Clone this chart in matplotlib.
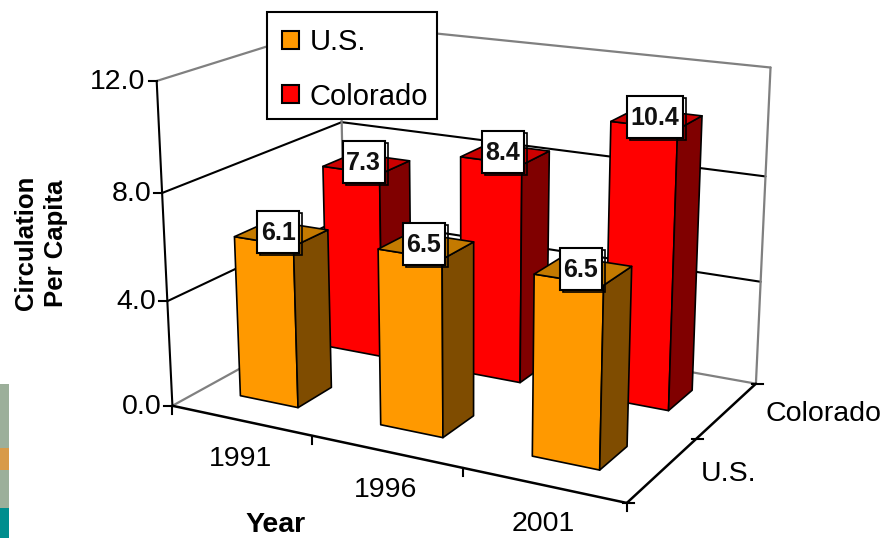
import numpy as np
from matplotlib import pyplot as plt
from matplotlib.patches import Polygon, Rectangle, Patch

years = ['1991', '1996', '2001']
series = ['U.S.', 'Colorado']
us_values = [6.1, 6.5, 6.5]
colorado_values = [7.3, 8.4, 10.4]
value_ticks = [0.0, 4.0, 8.0, 12.0]

FRONT = {'U.S.': '#FF9900', 'Colorado': '#FF0000'}
SIDE = {'U.S.': '#7F4C00', 'Colorado': '#800000'}
TOP = {'U.S.': '#C47A00', 'Colorado': '#CC0000'}
GREY = '#808080'

plt.rcParams['font.family'] = ['Liberation Sans', 'DejaVu Sans']

fig = plt.figure(figsize=(8.87, 5.38), dpi=100)
ax = fig.add_axes([0, 0, 1, 1])
ax.set_xlim(0, 887)
ax.set_ylim(538, 0)
ax.axis('off')

# camera: fit a projection from (year, series, value) space to the canvas
frame = [
    ((0, 0, 0), (172, 403)), ((3, 0, 0), (627, 501)),
    ((3, 2, 0), (755, 383)), ((0, 2, 0), (347, 312)),
    ((0, 0, 12), (158, 82)), ((0, 2, 12), (338, 23)),
    ((3, 2, 12), (772, 68)), ((1, 0, 0), (311, 437)),
    ((2, 0, 0), (463, 472)), ((3, 1, 0), (697, 438)),
    ((0, 0, 8), (162, 193)), ((0, 0, 4), (167, 300)),
    ((0, 2, 8), (342, 122)), ((3, 2, 8), (764, 176)),
    ((3, 2, 4), (761, 282)),
]
A, b = [], []
for (x, y, z), (u, v) in frame:
    A.append([x, y, z, 1, 0, 0, 0, 0, -u * x, -u * y, -u * z])
    A.append([0, 0, 0, 0, x, y, z, 1, -v * x, -v * y, -v * z])
    b += [u, v]
p = np.linalg.lstsq(np.array(A, float), np.array(b, float), rcond=None)[0]
P = np.append(p, 1).reshape(3, 4)


def proj(x, y, z):
    h = P @ np.array([x, y, z, 1.0])
    return h[0] / h[2], h[1] / h[2]


def line3(a, b, color='black', lw=1.5, zorder=1):
    pa, pb = proj(*a), proj(*b)
    ax.plot([pa[0], pb[0]], [pa[1], pb[1]], color=color, lw=lw, zorder=zorder,
            solid_capstyle='round')


# left strip of the slide behind the chart
for y0, y1, c in [(384, 448, '#9CAF9A'), (448, 470, '#D89A48'),
                  (470, 508, '#9CAF9A'), (508, 538, '#008E8E')]:
    ax.add_patch(Rectangle((0, y0), 9, y1 - y0, fc=c, ec='none', zorder=0))

# walls
for v in value_ticks[1:3]:
    line3((0, 0, v), (0, 2, v))
    line3((0, 2, v), (3, 2, v))
line3((0, 0, 12), (0, 2, 12), GREY, 1.6)
line3((0, 2, 12), (3, 2, 12), GREY, 1.6)
line3((0, 0, 0), (0, 2, 0), GREY, 1.6)
line3((0, 2, 0), (3, 2, 0), GREY, 1.6)
line3((0, 2, 0), (0, 2, 12), GREY, 1.6)
line3((3, 2, 0), (3, 2, 12), GREY, 1.6)
line3((0, 0, 0), (0, 0, 12), 'black', 1.5)
line3((0, 0, 0), (3, 0, 0), 'black', 1.8, zorder=1)
line3((3, 0, 0), (3, 2, 0), 'black', 1.8, zorder=1)

# ticks
for v in value_ticks:
    u0, v0 = proj(0, 0, v)
    ax.plot([u0 - 8, u0], [v0, v0], color='black', lw=1.5)
    ax.text(u0 - 11, v0 + 1, '%.1f' % v, ha='right', va='center', fontsize=20.5)
for i in range(4):
    u0, v0 = proj(i, 0, 0)
    ax.plot([u0, u0], [v0, v0 + 8], color='black', lw=1.5)
for s in range(3):
    u0, v0 = proj(3, s, 0)
    ax.plot([u0 - 4, u0 + 7], [v0, v0], color='black', lw=1.5)

for i, year in enumerate(years):
    u0, v0 = proj(i + 0.5, 0, 0)
    ax.text(u0, v0 + 39, year, ha='center', va='center', fontsize=20.5)
for s, name in enumerate(series):
    u0, v0 = proj(3, s + 0.5, 0)
    ax.text(u0 + 38, v0 + 4, name, ha='left', va='center', fontsize=20.5)

ax.text(276, 525, 'Year', ha='center', va='center', fontsize=20.5, fontweight='bold')
ax.text(41, 243, 'Circulation\nPer Capita', ha='center', va='center', rotation=90,
        fontsize=18.5, fontweight='bold', linespacing=1.28)


# bars, back row first
HW_X = 0.21
MID_X = 0.48
HW_Y = 0.19
MID_Y = 0.52


def bar3(i, s, value, name):
    x0, x1 = i + MID_X - HW_X, i + MID_X + HW_X
    y0, y1 = s + MID_Y - HW_Y, s + MID_Y + HW_Y
    faces = [
        ([(x0, y0, 0), (x1, y0, 0), (x1, y0, value), (x0, y0, value)], FRONT[name]),
        ([(x1, y0, 0), (x1, y1, 0), (x1, y1, value), (x1, y0, value)], SIDE[name]),
        ([(x0, y0, value), (x1, y0, value), (x1, y1, value), (x0, y1, value)], TOP[name]),
    ]
    for pts, color in faces:
        ax.add_patch(Polygon([proj(*q) for q in pts], closed=True, fc=color,
                             ec='black', lw=1.2, joinstyle='round', zorder=3))


for i, v in enumerate(colorado_values):
    bar3(i, 1, v, 'Colorado')
for i, v in enumerate(us_values):
    bar3(i, 0, v, 'U.S.')


# value labels
def label(i, s, value):
    u0, v0 = proj(i + 0.5, s + 0.5, value)
    u0, v0 = u0 - 4, v0 - 3
    w = 56 if value >= 10 else 42
    h = 42
    ax.add_patch(Rectangle((u0 - w / 2 + 3, v0 - h / 2 + 2), w, h, fc='none', ec='black',
                           lw=1.2, zorder=4))
    ax.add_patch(Rectangle((u0 - w / 2, v0 - h / 2), w, h, fc='white', ec='black',
                           lw=1.5, zorder=5))
    ax.text(u0, v0 + 1, '%.1f' % value, ha='center', va='center', fontsize=18,
            fontweight='bold', color='#111111', zorder=6)


for i, v in enumerate(colorado_values):
    label(i, 1, v)
for i, v in enumerate(us_values):
    label(i, 0, v)

# legend box, drawn apart so its padding can follow the original
ax.add_patch(Rectangle((267, 12), 170, 107, fc='white', ec='black', lw=1.5, zorder=9))
handles = [Patch(fc=FRONT[n], ec='black', lw=1.5, label=n) for n in series]
leg = ax.legend(handles=handles, loc='upper left', bbox_to_anchor=(267, 13),
                bbox_transform=ax.transData, borderaxespad=0, fontsize=21,
                handlelength=0.57, handleheight=0.57, handletextpad=0.38,
                labelspacing=0.91, borderpad=0.52, frameon=False)
leg.set_zorder(10)

fig.savefig('out.png', dpi=100)
